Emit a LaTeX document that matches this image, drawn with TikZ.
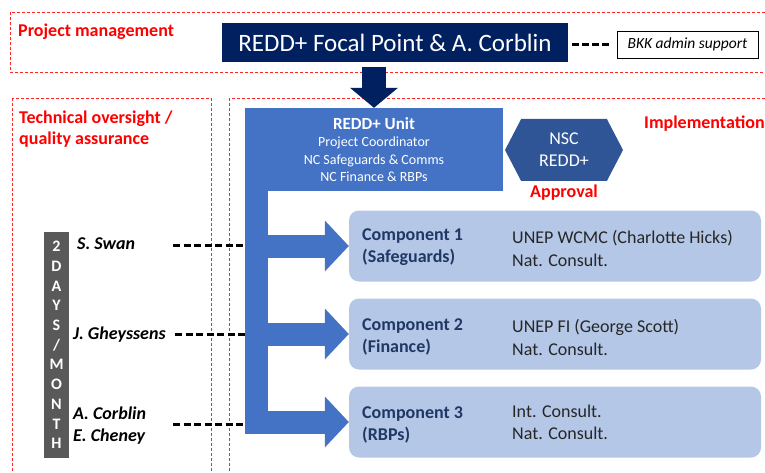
\documentclass[tikz,border=0pt]{standalone}
\usepackage{fontspec}
\setmainfont{Carlito}
\usepackage{tikz}
\usetikzlibrary{arrows.meta,shapes.symbols}
\definecolor{focalnavy}{HTML}{002060}
\definecolor{unitblue}{HTML}{4472C4}
\definecolor{nscblue}{HTML}{2F5597}
\definecolor{complight}{HTML}{B4C7E7}
\definecolor{comptext}{HTML}{1F3864}
\definecolor{zonered}{HTML}{FF0000}
\definecolor{daysgray}{HTML}{595959}
\newcommand{\advisorlink}[1]{
    \draw[advlink] (#1) -- (#1 -| bar.west);
}
\tikzset{
    zone/.style={draw=zonered!85, line width=0.8pt, dash pattern=on 3pt off 2pt},
    zonetitle/.style={text=zonered, font=\bfseries\fontsize{18}{21}\selectfont, inner sep=0pt, align=left},
    focalbox/.style={fill=focalnavy, text=white, minimum width=346pt, minimum height=39pt, inner sep=0pt, font=\fontsize{25}{29}\selectfont},
    adminbox/.style={draw=black, line width=0.6pt, minimum width=141pt, minimum height=27pt, inner sep=0pt, font=\itshape\fontsize{15.5}{18}\selectfont},
    unitbox/.style={fill=unitblue, text=white, minimum width=258pt, minimum height=83pt, inner sep=0pt, align=center, font=\fontsize{14}{17.5}\selectfont},
    nscbox/.style={signal, signal to=east and west, signal pointer angle=125, fill=nscblue, text=white, minimum width=118pt, minimum height=62pt, inner sep=0pt, align=center, font=\fontsize{18}{22}\selectfont},
    compbox/.style={fill=complight, rounded corners=10pt, minimum width=412pt, minimum height=71pt, inner sep=0pt},
    comptitle/.style={text=comptext, anchor=west, inner sep=0pt, align=left, font=\bfseries\fontsize{18}{22}\selectfont},
    compteam/.style={text=black!85, anchor=west, inner sep=0pt, align=left, font=\fontsize{18}{22.5}\selectfont},
    daysbar/.style={fill=daysgray, text=white, minimum width=25pt, minimum height=226pt, inner sep=0pt, align=center, font=\bfseries\fontsize{16}{19.7}\selectfont},
    person/.style={anchor=west, inner sep=0pt, align=left, font=\bfseries\itshape\fontsize{18}{22}\selectfont},
    advlink/.style={draw=black, line width=3pt, dash pattern=on 7pt off 3.5pt},
    fatarrow/.style={unitblue, line width=23pt, -{Triangle[length=24pt, width=51pt, line width=0pt]}},
    navyarrow/.style={focalnavy, line width=24pt, -{Triangle[length=20pt, width=48pt, line width=0pt]}}
}
\begin{document}
\begin{tikzpicture}[x=1pt,y=-1pt]
    \useasboundingbox (0,0) rectangle (765,473);
    % zones
    \draw[zone] (10,12) rectangle (780,72);
    \draw[zone] (12,98) rectangle (211,490);
    \draw[zone] (229,98) rectangle (780,490);
    \node[zonetitle, anchor=west] (pmtitle) at (18,32) {Project management};
    \node[zonetitle, anchor=north west] (totitle) at (19,111) {Technical oversight /\\quality assurance};
    \node[zonetitle, anchor=west] (imptitle) at (644,124) {Implementation};

    % project management
    \node[focalbox] (focal) at (395,42.5) {REDD+ Focal Point \& A. Corblin};
    \node[adminbox] (bkk) at (687.5,44.5) {BKK admin support};
    \draw[advlink, line width=2.5pt, dash pattern=on 7pt off 3pt, shorten <=4pt, shorten >=5pt] (focal.east |- bkk.west) -- (bkk.west);

    % implementation
    \node[unitbox] (unit) at (374,149.5) {{\bfseries\fontsize{17}{20}\selectfont REDD+ Unit}\\Project Coordinator\\NC Safeguards \& Comms\\NC Finance \& RBPs};
    \node[fill=unitblue, minimum width=23pt, minimum height=244.5pt, inner sep=0pt, anchor=north west] (bar) at (245,189) {};
    \draw[navyarrow] ([yshift=-5pt]unit.north |- focal.south) -- (unit.north);
    \node[nscbox] (nsc) at (564,150) {NSC\\REDD+};
    \node[zonetitle, align=center] (approval) at (564,193) {Approval};

    \node[compbox] (c1) at (555,246) {};
    \node[comptitle] (c1title) at (362,247.5) {Component 1\\(Safeguards)};
    \node[compteam] (c1team) at (512,248.5) {UNEP WCMC (Charlotte Hicks)\\Nat. Consult.};
    \node[compbox] (c2) at (555,334) {};
    \node[comptitle] (c2title) at (362,336.5) {Component 2\\(Finance)};
    \node[compteam] (c2team) at (512,337.5) {UNEP FI (George Scott)\\Nat. Consult.};
    \node[compbox] (c3) at (555,422) {};
    \node[comptitle] (c3title) at (362,424.5) {Component 3\\(RBPs)};
    \node[compteam] (c3team) at (512,422.5) {Int. Consult.\\Nat. Consult.};

    \draw[fatarrow] (bar.center |- c1.west) -- (c1.west);
    \draw[fatarrow] (bar.center |- c2.west) -- (c2.west);
    \draw[fatarrow] (bar.center |- c3.west) -- (c3.west);

    % technical oversight
    \node[daysbar] (days) at (56.5,345) {2\\D\\A\\Y\\S\\/\\M\\O\\N\\T\\H};
    \node[person] (swan) at (77,244) {S. Swan};
    \node[person] (gheyssens) at (73,335) {J. Gheyssens};
    \node[person] (corblin) at (73,426) {A. Corblin\\E. Cheney};
    \coordinate (swanlink) at (173,245);
    \coordinate (gheylink) at (175,334);
    \coordinate (corblink) at (173,424);
    \advisorlink{swanlink}
    \advisorlink{gheylink}
    \advisorlink{corblink}
\end{tikzpicture}
\end{document}
